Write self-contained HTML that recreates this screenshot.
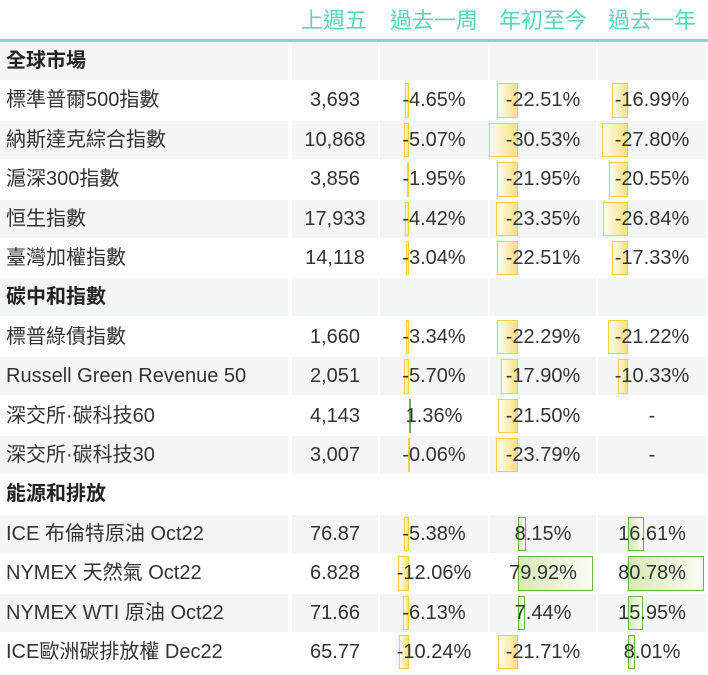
<!DOCTYPE html>
<html><head><meta charset="utf-8"><style>
body{margin:0;width:708px;height:675px;background:#fff;font-family:"Liberation Sans","Noto Sans CJK TC",sans-serif;color:#333;position:relative;overflow:hidden}
.h{position:absolute;top:3px;font-size:22px;color:#56d8b8;text-align:center}
.c{position:absolute;height:38px;line-height:38px;font-size:20px;text-align:center;white-space:nowrap}
.bar{position:absolute;box-sizing:border-box}
.neg{border:1.5px solid #f7cf3a;background:linear-gradient(to right,#fffdf2,#f8df80)}
.pos{border:1.5px solid #6fb24a;background:linear-gradient(to right,#d6eab6,#fafdf5)}
.t{position:relative;z-index:2}
</style></head><body>
<div style="position:absolute;left:0;top:39px;width:708px;height:3px;background:#6ee0cc"></div>
<div class="h" style="left:290px;width:88px">上週五</div>
<div class="h" style="left:380px;width:108px">過去一周</div>
<div class="h" style="left:490px;width:106px">年初至今</div>
<div class="h" style="left:598px;width:108px">過去一年</div>
<div id="tbl"></div>
<script>
const labels=["全球市場","標準普爾500指數","納斯達克綜合指數","滬深300指數","恒生指數","臺灣加權指數","碳中和指數","標普綠債指數","Russell Green Revenue 50","深交所·碳科技60","深交所·碳科技30","能源和排放","ICE 布倫特原油 Oct22","NYMEX 天然氣 Oct22","NYMEX WTI 原油 Oct22","ICE歐洲碳排放權  Dec22"];
const lastFri=[null,"3,693","10,868","3,856","17,933","14,118",null,"1,660","2,051","4,143","3,007",null,"76.87","6.828","71.66","65.77"];
const week=[null,-4.65,-5.07,-1.95,-4.42,-3.04,null,-3.34,-5.70,1.36,-0.06,null,-5.38,-12.06,-6.13,-10.24];
const ytd=[null,-22.51,-30.53,-21.95,-23.35,-22.51,null,-22.29,-17.90,-21.50,-23.79,null,8.15,79.92,7.44,-21.71];
const year=[null,-16.99,-27.80,-20.55,-26.84,-17.33,null,-21.22,-10.33,null,null,null,16.61,80.78,15.95,8.01];
const cols=[{x:380,w:108,axis:409,d:week,n:"week"},{x:490,w:106,axis:518,d:ytd,n:"ytd"},{x:598,w:108,axis:628,d:year,n:"year"}];
const scale=0.935,top0=42,rh=39.4;
const tbl=document.getElementById('tbl');
function mk(cls,style,txt){const e=document.createElement('div');e.className=cls;e.style.cssText=style;if(txt!=null)e.textContent=txt;tbl.appendChild(e);return e;}
labels.forEach((lab,i)=>{
  const y=top0+i*rh, bg=i%2===0?'#f4f6f5':'#fff', sec=lastFri[i]===null&&week[i]===null;
  const l=mk('c',`left:0;top:${y}px;width:288px;background:${bg};text-align:left;padding-left:6px;box-sizing:border-box;${sec?'font-weight:bold;color:#222;':''}`,lab);
  
  
  const f=mk('c',`left:292px;top:${y}px;width:86px;background:${bg}`,lastFri[i]===null?'':lastFri[i]);
  
  
  cols.forEach(c=>{
    const cell=mk('c',`left:${c.x}px;top:${y}px;width:${c.w}px;background:${bg}`);
    
    
    const v=c.d[i];
    if(sec)return;
    if(v!==null){
      const len=Math.max(Math.abs(v)*scale,1.5);
      const b=document.createElement('div');
      b.className='bar '+(v<0?'neg':'pos');
      const left=v<0?c.axis-len:c.axis;
      b.style.cssText=`left:${left-c.x}px;top:2px;width:${len}px;height:${rh-5}px`;
      
      
      cell.appendChild(b);
    }
    const s=document.createElement('span');s.className='t';
    s.textContent=v===null?'-':v.toFixed(2)+'%';
    
    
    cell.appendChild(s);
  });
});
</script>
</body></html>
